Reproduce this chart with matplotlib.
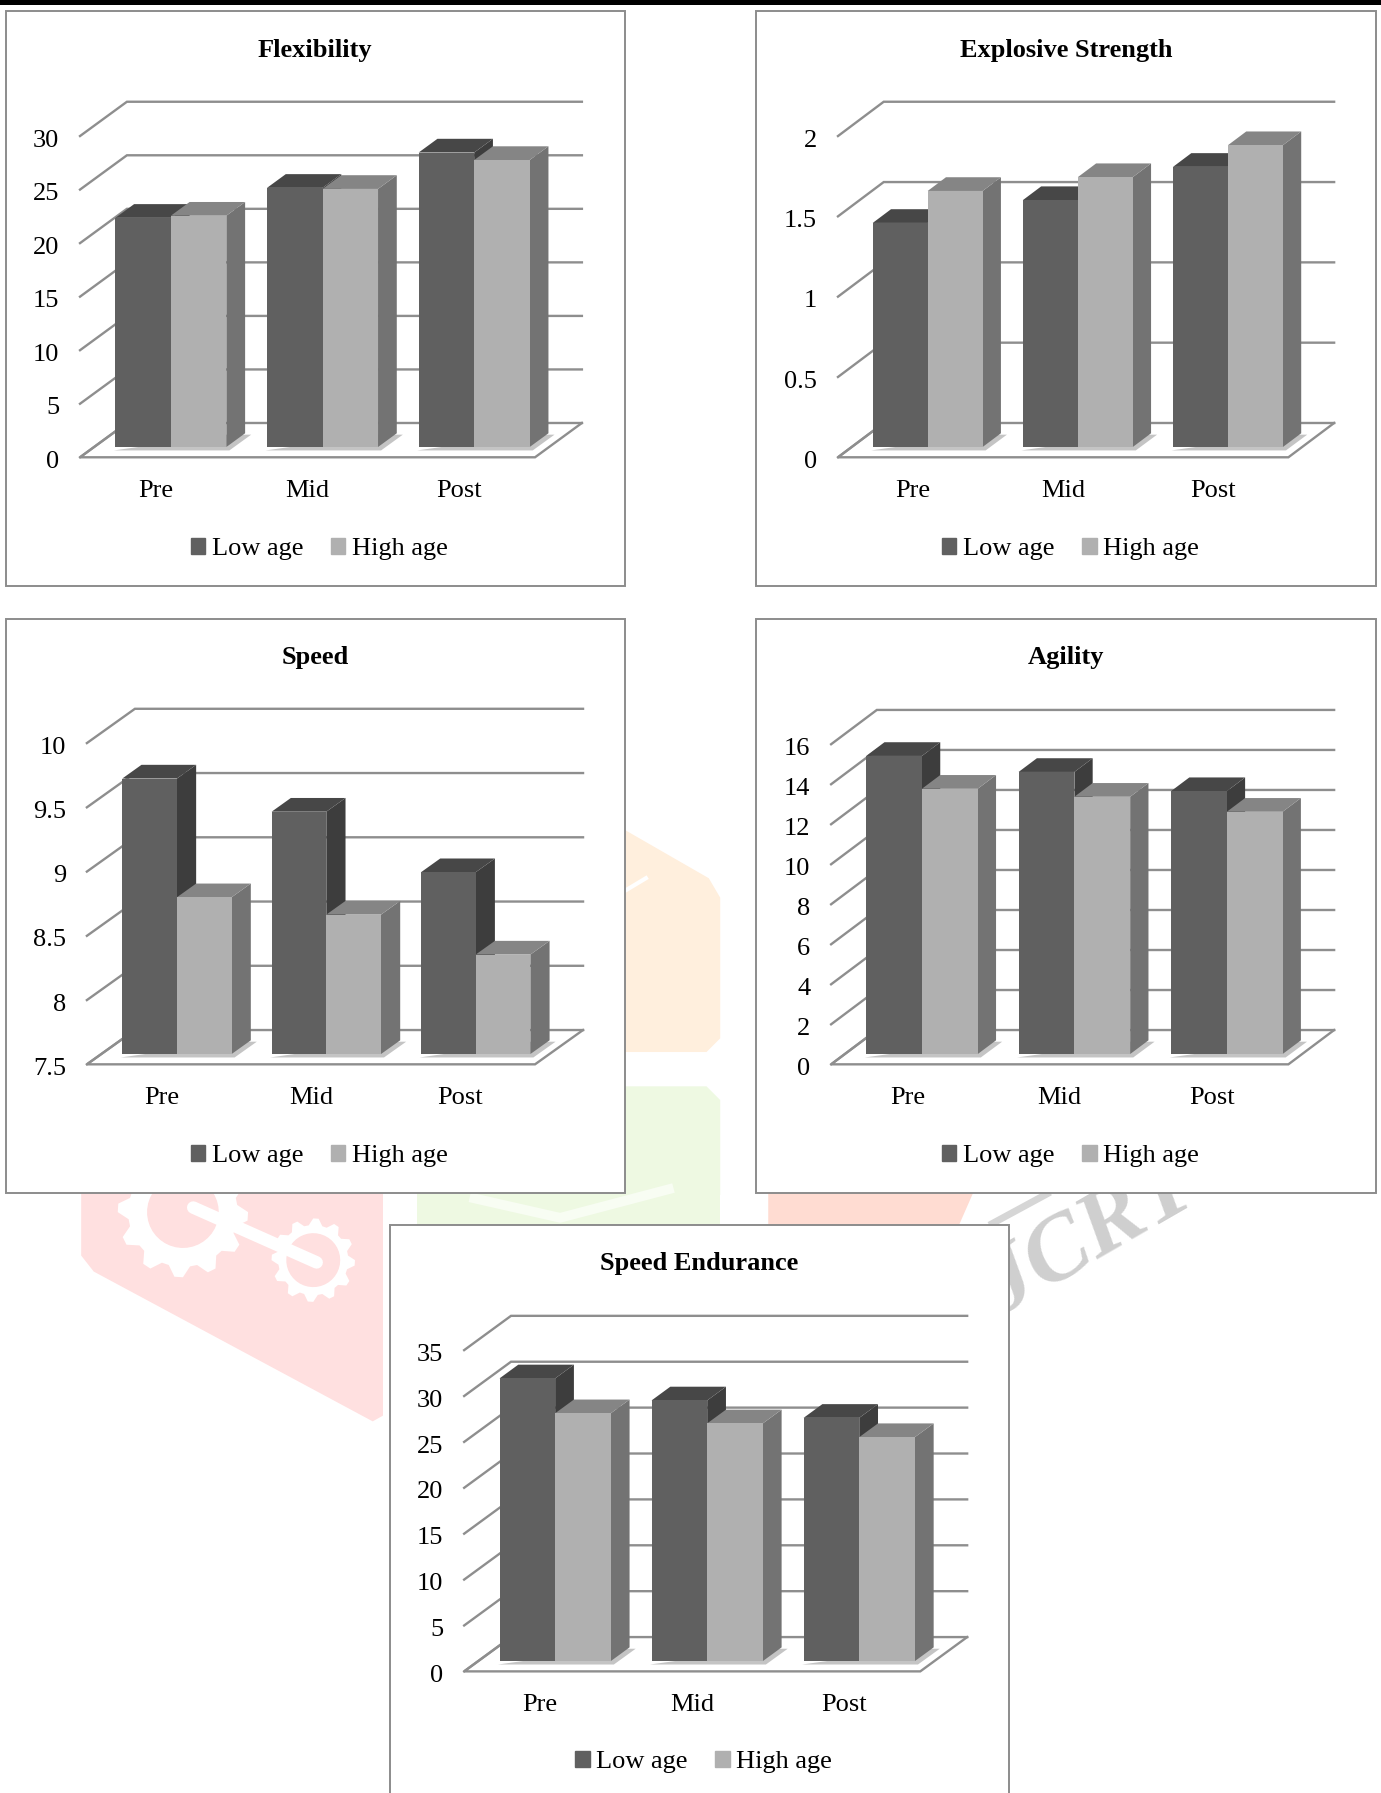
import numpy as np
import matplotlib
matplotlib.use('Agg')
import matplotlib.pyplot as plt
from matplotlib.patches import Polygon, Rectangle, Patch
from matplotlib.transforms import ScaledTranslation

plt.rcParams['font.family'] = ['Liberation Serif', 'DejaVu Serif']

categories = ['Pre', 'Mid', 'Post']
series_names = ['Low age', 'High age']

flex_low = [21.4, 24.2, 27.5]
flex_high = [21.6, 24.1, 26.8]
flex_ticks = [0, 5, 10, 15, 20, 25, 30]
flex_labels = ['0', '5', '10', '15', '20', '25', '30']

expl_low = [1.395, 1.537, 1.744]
expl_high = [1.594, 1.68, 1.879]
expl_ticks = [0, 0.5, 1, 1.5, 2]
expl_labels = ['0', '0.5', '1', '1.5', '2']

speed_low = [9.644, 9.386, 8.915]
speed_high = [8.72, 8.585, 8.274]
speed_ticks = [7.5, 8, 8.5, 9, 9.5, 10]
speed_labels = ['7.5', '8', '8.5', '9', '9.5', '10']

agil_low = [14.9, 14.1, 13.14]
agil_high = [13.26, 12.86, 12.11]
agil_ticks = [0, 2, 4, 6, 8, 10, 12, 14, 16]
agil_labels = ['0', '2', '4', '6', '8', '10', '12', '14', '16']

endu_low = [30.8, 28.4, 26.5]
endu_high = [27.0, 25.9, 24.4]
endu_ticks = [0, 5, 10, 15, 20, 25, 30, 35]
endu_labels = ['0', '5', '10', '15', '20', '25', '30', '35']

W, H = 1381, 1793
S = W / 1208.0   # layout below was measured on a 1208 wide copy

LOW = ('#606060', '#474747', '#3d3d3d')
HIGH = ('#b0b0b0', '#858585', '#737373')
GRID = '#8e8e8e'
PINK = '#ffe0e0'

fig = plt.figure(figsize=(W / 100, H / 100), dpi=100, facecolor='white')

bg = fig.add_axes([0, 0, 1, 1], zorder=0)
bg.set_xlim(0, 1208)
bg.set_ylim(1568, 0)
bg.axis('off')


def gear(cx, cy, r, hole, teeth=12):
    ang = np.linspace(0, 2 * np.pi, teeth * 4, endpoint=False)
    rad = np.tile([r, r, r * 0.84, r * 0.84], teeth)
    bg.add_patch(Polygon(np.c_[cx + rad * np.cos(ang), cy + rad * np.sin(ang)],
                         fc='white', ec='none', zorder=2))
    th = np.linspace(0, 2 * np.pi, 40)
    bg.fill(cx + r * hole * np.cos(th), cy + r * hole * np.sin(th), color=PINK, zorder=3)


# watermark behind the panels
bg.add_patch(Polygon([(71, 1030), (335, 1030), (335, 1238), (326, 1243), (82, 1112), (71, 1098)],
                     fc=PINK, ec='none', zorder=1))
bg.add_patch(Polygon([(365, 1030), (630, 1030), (630, 1075), (365, 1075)],
                     fc='#eef9e2', ec='none', zorder=1))
bg.add_patch(Polygon([(540, 950), (618, 950), (630, 962), (630, 1045), (540, 1045)],
                     fc='#eef9e2', ec='none', zorder=1))
bg.add_patch(Polygon([(540, 722), (620, 768), (630, 785), (630, 908), (618, 920), (540, 920)],
                     fc='#ffefdd', ec='none', zorder=1))
bg.add_patch(Polygon([(672, 1030), (857, 1030), (800, 1160), (672, 1160)],
                     fc='#ffdcd2', ec='none', zorder=1))
bg.plot([415, 490, 585], [1048, 1065, 1040], color='#f8fdf3', lw=7, zorder=2)
bg.plot([540, 565], [783, 768], color='white', lw=3, zorder=2)
gear(160, 1060, 57, 0.54)
gear(274, 1102, 36.5, 0.63)
bg.plot([169, 277], [1056, 1104], color='white', lw=9, solid_capstyle='round', zorder=4)
bg.plot([868, 916], [1070, 1044], color='#d6d6d6', lw=5, zorder=2)
bg.text(941, 1090, 'IJCRT', fontsize=68, fontweight='bold', fontstyle='italic',
        color='#cfcfcf', rotation=30, ha='center', va='center', zorder=3)

bg.add_patch(Rectangle((0, 0), 1208, 4, fc='black', ec='none', zorder=6))


def draw_panel(title, low, high, ticks, labels, box, floor, top_y, shift, legend_x):
    bx0, by0, bx1, by1 = box
    fx0, fx1, fy = floor
    dx_px, dy_px = shift
    bg.add_patch(Rectangle((bx0, by0), bx1 - bx0, by1 - by0, fc='white', ec='#8c8c8c', lw=1.4, zorder=5))

    ax = fig.add_axes([fx0 * S / W, 1 - fy * S / H, (fx1 - fx0) * S / W, (fy - top_y) * S / H], zorder=2)
    ax.patch.set_alpha(0)
    vmin, vmax = ticks[0], ticks[-1]
    ax.set_xlim(0, 3)
    ax.set_ylim(vmin, vmax)
    for s in ax.spines.values():
        s.set_visible(False)

    # depth of the fake 3d box, in data units
    dx = dx_px * 3 / (fx1 - fx0)
    dy = dy_px * (vmax - vmin) / (fy - top_y)

    for v in ticks:
        ax.plot([0, dx, 3 + dx], [v, v + dy, v + dy], color=GRID, lw=1.7, clip_on=False, zorder=1,
                solid_joinstyle='miter')
    ax.plot([dx, 0, 3, 3 + dx], [vmin + dy, vmin, vmin, vmin + dy], color=GRID, lw=1.7, clip_on=False,
            zorder=1, solid_joinstyle='miter')

    w = 0.366
    sx, sy = 0.32 * dx, 0.3 * dy
    bx, by = 0.4 * dx, 0.4 * dy
    base = vmin + sy
    centers = np.arange(3) + 0.5

    # soft shadow on the floor
    for c in centers:
        ax.add_patch(Polygon([(c + sx - w - 0.01, base - 0.1 * dy), (c + sx + w + 0.02, base - 0.1 * dy),
                              (c + sx + w + bx + 0.04, base + by * 0.9), (c + sx + w, base + by * 0.9)],
                             fc='#c4c4c4', ec='none', clip_on=False, zorder=2))

    z = 3
    for vals, off, cols in ((low, -w, LOW), (high, 0, HIGH)):
        for c, v in zip(centers, vals):
            left = c + sx + off
            right = left + w
            ax.bar(left, v - base + sy, w, bottom=base, align='edge', color=cols[0], clip_on=False, zorder=z + 2)
            top = v + sy
            ax.add_patch(Polygon([(left, top), (right, top), (right + bx, top + by), (left + bx, top + by)],
                                 fc=cols[1], ec='none', clip_on=False, zorder=z + 1))
            ax.add_patch(Polygon([(right, base), (right + bx, base + by), (right + bx, top + by), (right, top)],
                                 fc=cols[2], ec='none', clip_on=False, zorder=z))
        z += 3

    ax.set_yticks(ticks)
    ax.set_yticklabels(labels)
    ax.set_xticks(centers)
    ax.set_xticklabels(categories)
    ax.tick_params(axis='y', length=0, pad=15, labelsize=19, colors='black')
    ax.tick_params(axis='x', length=0, pad=16.5, labelsize=19, colors='black')
    down = ScaledTranslation(0, -1.5 / 72, fig.dpi_scale_trans)
    for lab in ax.get_yticklabels():
        lab.set_transform(lab.get_transform() + down)

    fig.text((bx0 + bx1) / 2 * S / W, 1 - (by0 + 34) * S / H, title, fontsize=19, fontweight='bold',
             ha='center', va='center', zorder=6)

    handles = [Patch(color=LOW[0], label=series_names[0]), Patch(color=HIGH[0], label=series_names[1])]
    fig.legend(handles=handles, loc='center', ncol=2, frameon=False, fontsize=19,
               bbox_to_anchor=(legend_x * S / W, 1 - (by0 + 470.5) * S / H),
               handlelength=0.54, handleheight=0.54, handletextpad=0.25, columnspacing=1.05,
               borderpad=0, borderaxespad=0)


draw_panel('Flexibility', flex_low, flex_high, flex_ticks, flex_labels,
           (5, 10, 546.5, 512.5), (70, 468, 400), 119, (41, 30), 279.5)
draw_panel('Explosive Strength', expl_low, expl_high, expl_ticks, expl_labels,
           (661, 10, 1203.5, 512.5), (733, 1127, 400), 119, (40, 30), 936.5)
draw_panel('Speed', speed_low, speed_high, speed_ticks, speed_labels,
           (5, 541, 546.5, 1043.5), (76, 468, 931), 650, (42, 30), 279.5)
draw_panel('Agility', agil_low, agil_high, agil_ticks, agil_labels,
           (661, 541, 1203.5, 1043.5), (727, 1127, 931), 651, (40, 30), 936.5)
draw_panel('Speed Endurance', endu_low, endu_high, endu_ticks, endu_labels,
           (341, 1071, 882.5, 1600), (406, 805, 1462), 1181, (41, 30), 615.5)

fig.savefig('out.png', dpi=100)
